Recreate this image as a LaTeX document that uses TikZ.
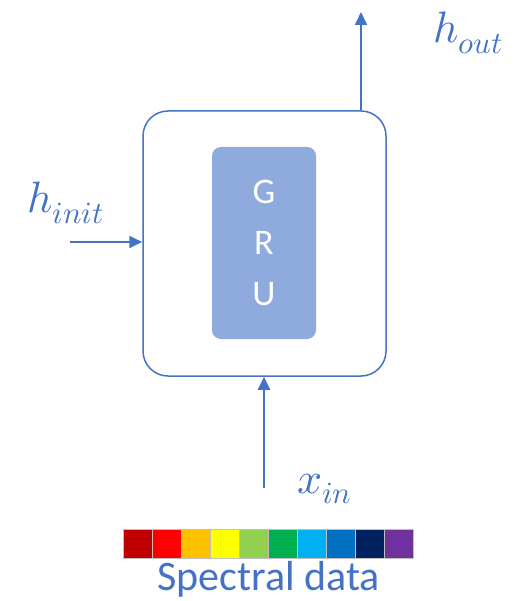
\documentclass[tikz,border=0pt]{standalone}
\usepackage{fontspec}
\usepackage{unicode-math}
\setsansfont{Carlito}
\usetikzlibrary{arrows.meta,positioning}
\definecolor{gruline}{HTML}{4472C4}
\definecolor{grufill}{HTML}{8FAADC}
\definecolor{bandedge}{HTML}{BFBFBF}

\begin{document}
\begin{tikzpicture}[x=1pt,y=-1pt]
\tikzstyle{cell}=[draw=gruline,line width=1.5pt,rounded corners=25pt,minimum width=243pt,minimum height=265pt]
\tikzstyle{core}=[fill=grufill,rounded corners=9pt,minimum width=104pt,minimum height=192pt]
\tikzstyle{flow}=[draw=gruline,line width=1.8pt,-{Triangle[length=13pt,width=12pt]}]
\tikzstyle{lbl}=[text=gruline,inner sep=0pt,anchor=base west,font=\fontsize{44}{52}\selectfont]
\tikzstyle{band}=[draw=bandedge,line width=0.8pt,minimum width=29pt,minimum height=29pt,inner sep=0pt]

\useasboundingbox (0,0) rectangle (518,601);

% the cell
\node[cell] (cell) at (264.5,243.5) {};
\node[core] (gru) at (264,243) {};
\node[text=white,align=center,font=\sffamily\fontsize{36}{51}\selectfont] (grutext) at (gru) {G\\R\\U};

% connectors
\coordinate (hout) at (361,12);
\coordinate (hinit) at (70,242);
\coordinate (xin) at (264,488);
\draw[flow] (cell.north -| hout) -- (hout);
\draw[flow] (hinit) -- (hinit -| cell.west);
\draw[flow] (xin) -- (xin |- cell.south);

\node[lbl] (houtlabel) at (433,43) {$h_{out}$};
\node[lbl] (hinitlabel) at (27,213) {$h_{init}$};
\node[lbl] (xinlabel) at (297,493) {$x_{in}$};

% spectrum
\foreach [count=\i] \c in {C00000,FF0000,FFC000,FFFF00,92D050,00B050,00B0F0,0070C0,002060,7030A0} {
  \definecolor{bandcol}{HTML}{\c}
  \node[band,fill=bandcol] (band\i) at (108.5+29*\i,543.5) {};
}
\node[text=gruline,inner sep=0pt,font=\sffamily\fontsize{42}{50}\selectfont,below=3pt of band5.south east] (spectral) {Spectral data};
\end{tikzpicture}
\end{document}
